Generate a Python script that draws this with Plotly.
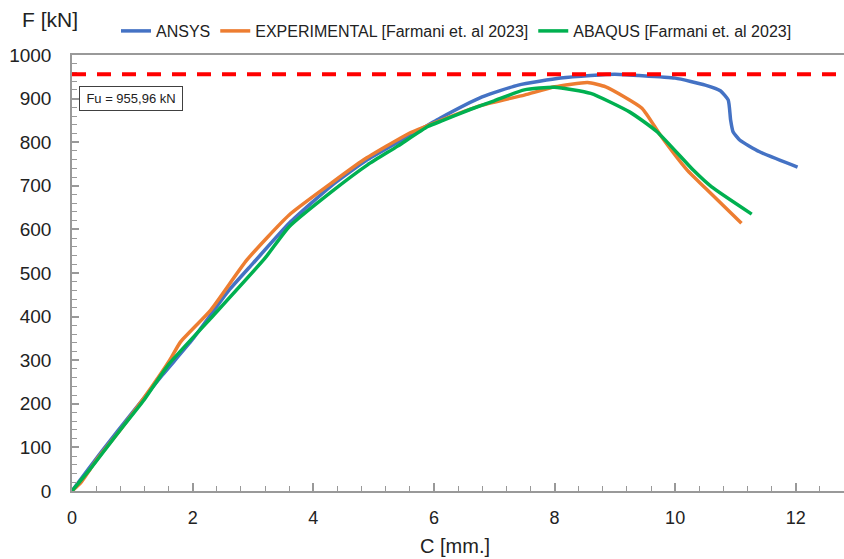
import plotly.graph_objects as go

# Load-displacement curves: displacement C [mm] vs. force F [kN]
ansys_c = [0, 0.5, 1.0, 1.5, 2.0, 2.6, 3.0, 3.6, 4.3, 4.9, 5.6, 6.1, 6.8, 7.4, 8.1,
           8.6, 9.0, 9.4, 10.0, 10.5, 10.75, 10.88, 10.92, 10.96, 11.07, 11.4, 12.03]
ansys_f = [0, 92, 180, 266, 348, 460, 522, 614, 700, 760, 815, 855, 904, 931, 947,
           953, 955.96, 953, 947, 931, 918, 897, 851, 824, 805, 778, 743]

exp_c = [0, 0.15, 0.4, 0.8, 1.2, 1.62, 1.8, 2.3, 2.9, 3.6, 4.3, 4.83, 5.6, 6.0, 6.8,
         7.5, 8.0, 8.55, 8.85, 9.45, 9.75, 10.2, 10.5, 11.1]
exp_f = [0, 20, 70, 140, 215, 300, 342, 415, 530, 633, 706, 759, 821, 844, 885,
         908, 927, 937, 927, 878, 817, 736, 695, 614]

abaqus_c = [0, 0.3, 0.8, 1.2, 1.6, 2.3, 3.2, 3.6, 4.3, 4.9, 5.4, 5.9, 6.15, 6.6, 7.0,
            7.5, 8.0, 8.6, 9.25, 9.7, 10.3, 10.6, 11.27]
abaqus_f = [0, 50, 140, 210, 290, 396, 534, 606, 686, 748, 791, 836, 850, 875, 895,
            920, 926, 912, 869, 824, 736, 698, 635]

fu = 955.96
fu_label = "Fu = 955,96 kN"

series = [
    ("ANSYS", ansys_c, ansys_f, "#4472C4"),
    ("EXPERIMENTAL [Farmani et. al 2023]", exp_c, exp_f, "#ED7D31"),
    ("ABAQUS [Farmani et. al 2023]", abaqus_c, abaqus_f, "#00B050"),
]

fig = go.Figure()
for name, xs, ys, color in series:
    fig.add_trace(go.Scatter(
        x=xs, y=ys, mode="lines", name=name,
        line=dict(color=color, width=3.5, shape="spline", smoothing=0.5),
    ))

# Ultimate load reference line
fig.add_shape(type="line", xref="paper", yref="y", x0=0, x1=1, y0=fu, y1=fu,
              line=dict(color="#FF0000", width=4, dash="14px,11px"), layer="above")

fig.add_annotation(
    xref="paper", yref="y", x=7 / 772, y=929, xanchor="left", yanchor="top",
    text=fu_label, showarrow=False, font=dict(size=13, color="#222222", family="Liberation Sans"),
    bordercolor="#404040", borderwidth=1, width=100, height=21, bgcolor="white",
)

fig.add_annotation(
    xref="paper", yref="paper", x=-52 / 772, y=(491 - 20) / 436, xanchor="left", yanchor="middle",
    text="F [kN]", showarrow=False, font=dict(size=21, color="#222222", family="Liberation Sans"),
)
fig.add_annotation(
    xref="paper", yref="paper", x=(455 - 72) / 772, y=(491 - 546) / 436, xanchor="center",
    yanchor="middle", text="C [mm.]", showarrow=False,
    font=dict(size=20, color="#222222", family="Liberation Sans Narrow, Liberation Sans"),
)

fig.update_layout(
    width=844, height=559,
    margin=dict(l=72, r=0, t=55, b=68),
    paper_bgcolor="white", plot_bgcolor="white",
    showlegend=True,
    legend=dict(orientation="h", x=(116 - 72) / 772, y=(491 - 14) / 436,
                xanchor="left", yanchor="top", itemwidth=30,
                font=dict(size=16, color="#222222", family="Liberation Sans"),
                bgcolor="rgba(0,0,0,0)", tracegroupgap=0),
    xaxis=dict(
        range=[0, 12.8], dtick=2, tick0=0, showgrid=False, zeroline=False,
        showline=True, linecolor="#999999", linewidth=1.5, mirror=True,
        ticks="inside", ticklen=8, tickcolor="#999999", tickwidth=1.5,
        minor=dict(dtick=0.4, ticks="inside", ticklen=5, tickcolor="#999999", tickwidth=1),
        tickfont=dict(size=18, color="#222222", family="Liberation Sans Narrow, Liberation Sans"),
        ticklabelstandoff=10,
    ),
    yaxis=dict(
        range=[0, 1000], dtick=100, tick0=0, showgrid=False, zeroline=False,
        showline=True, linecolor="#999999", linewidth=1.5,
        ticks="inside", ticklen=7, tickcolor="#999999", tickwidth=1.5,
        minor=dict(dtick=20, ticks="inside", ticklen=5, tickcolor="#999999", tickwidth=1),
        tickfont=dict(size=19, color="#222222", family="Liberation Sans"),
        ticklabelstandoff=15,
    ),
)

fig.write_html("out.html")
